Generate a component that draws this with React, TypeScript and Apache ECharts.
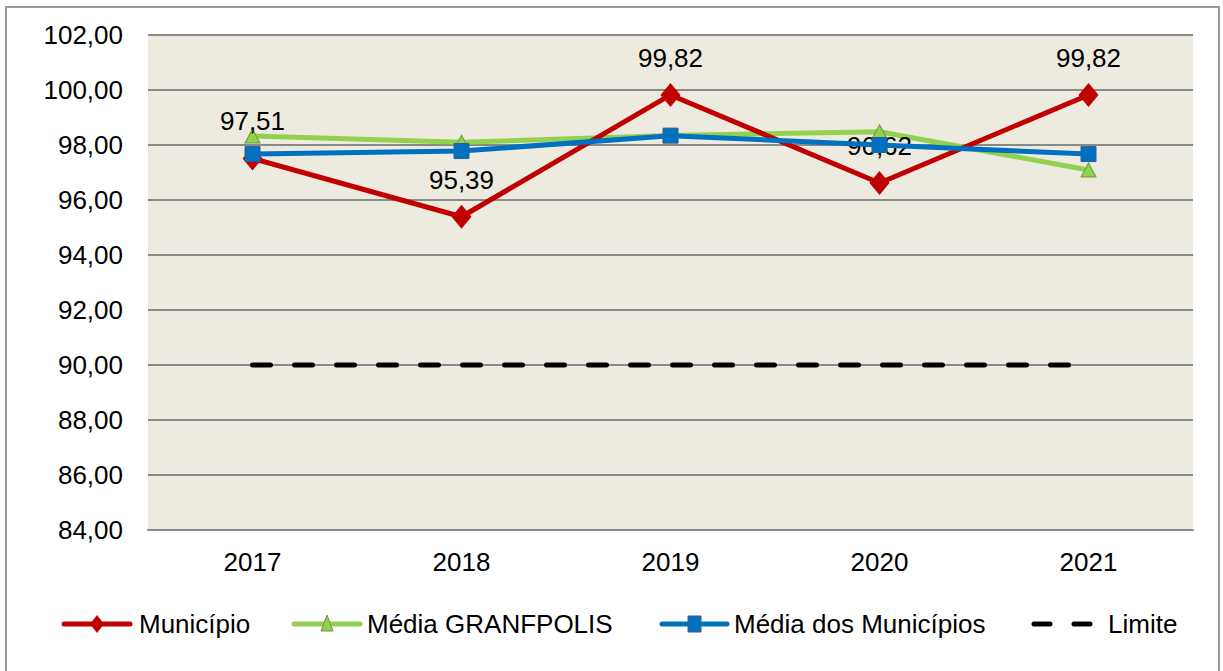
import React, { useEffect, useRef } from "react";
import * as echarts from "echarts";

const years = ["2017", "2018", "2019", "2020", "2021"];
const municipio = [97.51, 95.39, 99.82, 96.62, 99.82];
const mediaGranfpolis = [98.33, 98.1, 98.35, 98.48, 97.09];
const mediaMunicipios = [97.67, 97.78, 98.34, 98.0, 97.67];
const limite = [90, 90, 90, 90, 90];
const seriesNames = ["Município", "Média GRANFPOLIS", "Média dos Municípios", "Limite"];

const FONT = "'Liberation Sans', Arial, sans-serif";
const FS = 26;
const fmt = (v: number) => v.toFixed(2).replace(".", ",");

const RED = "#C00000";
const GREEN = "#92D050";
const BLUE = "#0070C0";

export default function App() {
  const ref = useRef<HTMLDivElement>(null);
  useEffect(() => {
    const chart = echarts.init(ref.current!, null, { renderer: "svg" });
    const LY = 624;
    const legendItem = (x1: number, x2: number, color: string, textX: number, name: string, marker: any[], dashed = false) => {
      const els: any[] = [];
      els.push({
        type: "line",
        shape: { x1: x1 + 3, y1: LY, x2: x2 - 3, y2: LY },
        style: dashed
          ? { stroke: color, lineWidth: 5, lineCap: "round", lineDash: [16, 24] }
          : { stroke: color, lineWidth: 5, lineCap: "round" },
      });
      els.push(...marker);
      els.push({
        type: "text",
        x: textX,
        y: LY,
        style: { text: name, font: `${FS}px ${FONT}`, fill: "#000", verticalAlign: "middle" },
      });
      return els;
    };
    const legendGraphics = [
      ...legendItem(61, 133, RED, 139, seriesNames[0], [
        { type: "polygon", shape: { points: [[97, LY - 9], [104, LY], [97, LY + 9], [90, LY]] }, style: { fill: RED } },
      ]),
      ...legendItem(291, 363, GREEN, 367, seriesNames[1], [
        { type: "polygon", shape: { points: [[327, LY - 9], [333, LY + 7], [321, LY + 7]] }, style: { fill: GREEN, stroke: "#6E9A3A", lineWidth: 1 } },
      ]),
      ...legendItem(659, 730, BLUE, 734, seriesNames[2], [
        { type: "rect", shape: { x: 688, y: LY - 8, width: 13, height: 16 }, style: { fill: BLUE, stroke: "#2F5F95", lineWidth: 1 } },
      ]),
      ...legendItem(1031, 1098, "#000", 1108, seriesNames[3], [], true),
    ];

    chart.setOption({
      animation: false,
      backgroundColor: "#ffffff",
      textStyle: { fontFamily: FONT },
      graphic: [
        {
          type: "rect",
          shape: { x: 6, y: 7, width: 1213, height: 670 },
          style: { fill: "none", stroke: "#9a9a9a", lineWidth: 2 },
          silent: true,
        },
        ...legendGraphics,
      ],
      grid: {
        left: 148,
        right: 30,
        top: 35,
        bottom: 141,
        show: true,
        backgroundColor: "#EDEBE0",
        borderWidth: 0,
      },
      legend: { show: false },
      xAxis: {
        type: "category",
        data: years,
        boundaryGap: true,
        axisLine: { show: true, lineStyle: { color: "#8a8a8a", width: 2 } },
        axisTick: { show: false },
        axisLabel: { fontFamily: FONT, fontSize: FS, color: "#000", margin: 19 },
      },
      yAxis: {
        type: "value",
        min: 84,
        max: 102,
        interval: 2,
        axisLine: { show: false },
        axisTick: { show: false },
        axisLabel: {
          fontFamily: FONT,
          fontSize: FS,
          color: "#000",
          margin: 25,
          formatter: (v: number) => fmt(v),
        },
        splitLine: { lineStyle: { color: "#898989", width: 2 } },
      },
      series: [
        {
          name: seriesNames[0],
          type: "line",
          data: municipio,
          z: 3,
          symbol: "diamond",
          symbolSize: [20, 24],
          lineStyle: { color: RED, width: 5 },
          itemStyle: { color: RED },
          label: {
            show: true,
            position: "top",
            distance: 12,
            fontFamily: FONT,
            fontSize: FS,
            color: "#000",
            formatter: (p: any) => fmt(p.value),
          },
        },
        {
          name: seriesNames[1],
          type: "line",
          data: mediaGranfpolis,
          z: 2,
          symbol: "triangle",
          symbolSize: [15, 14],
          lineStyle: { color: GREEN, width: 5 },
          itemStyle: { color: GREEN, borderColor: "#6E9A3A", borderWidth: 1 },
        },
        {
          name: seriesNames[2],
          type: "line",
          data: mediaMunicipios,
          z: 4,
          symbol: "rect",
          symbolSize: 15,
          lineStyle: { color: BLUE, width: 5 },
          itemStyle: { color: BLUE, borderColor: "#2F5F95", borderWidth: 1 },
        },
        {
          name: seriesNames[3],
          type: "line",
          data: limite,
          z: 1,
          symbol: "none",
          lineStyle: { color: "#000000", width: 5, type: [18, 24], cap: "round" },
          itemStyle: { color: "#000000" },
        },
      ],
    });
    return () => chart.dispose();
  }, []);
  return (
    <div
      ref={ref}
      style={{ position: "absolute", left: 0, top: 0, width: 1223, height: 671 }}
    />
  );
}
